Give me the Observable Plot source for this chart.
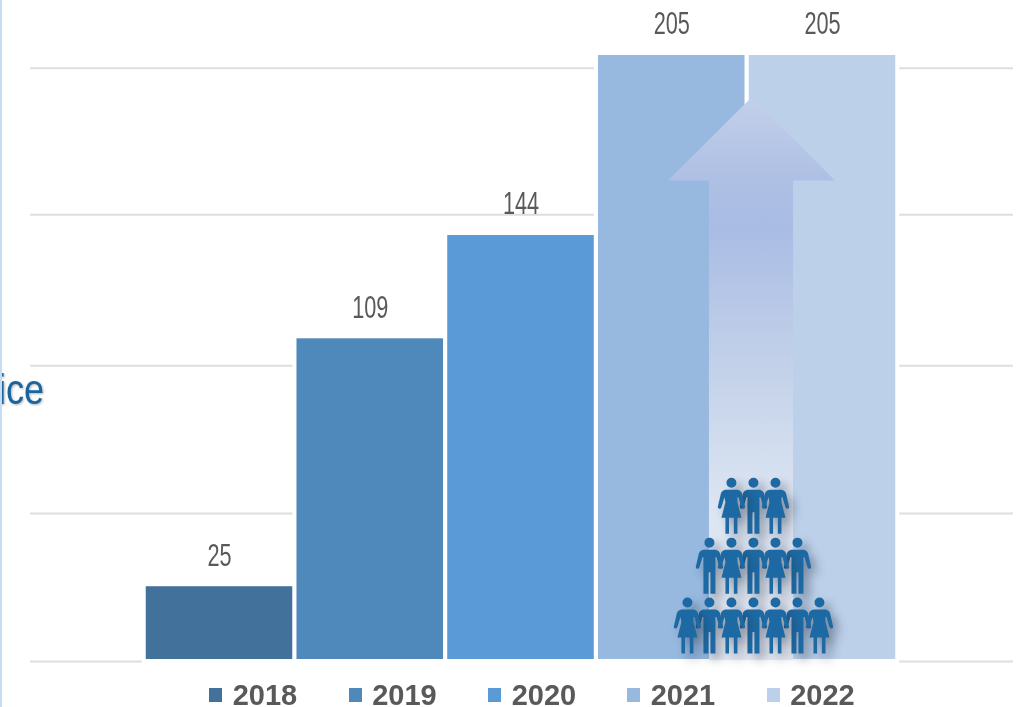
<!DOCTYPE html>
<html>
<head>
<meta charset="utf-8">
<script src="https://cdn.jsdelivr.net/npm/d3@7"></script>
<script src="https://cdn.jsdelivr.net/npm/@observablehq/plot@0.6"></script>
<style>
  html, body { margin: 0; padding: 0; background: #fff; overflow: hidden; }
  #wrap { position: relative; width: 1025px; height: 707px; overflow: hidden; }
  #edge { position: absolute; left: 0; top: 0; width: 2px; height: 707px; background: #c6dcf3; }
  #chart svg { display: block; filter: blur(0.45px); }
  #legend { position: absolute; left: 0; top: 679px; width: 1025px; height: 28px;
    font: bold 29px "Liberation Sans", sans-serif; color: #595959; filter: blur(0.4px); }
  #legend .item { position: absolute; top: 0; height: 28px; line-height: 33px; white-space: nowrap; }
  #legend .sw { position: absolute; left: 0; top: 9px; width: 13px; height: 14px; }
  #legend .lab { position: absolute; left: 23.7px; top: 0; display: inline-block; }
</style>
</head>
<body>
<div id="wrap">
  <div id="chart"></div>
  <div id="edge"></div>
  <div id="legend"></div>
</div>
<script>
const years = [2018, 2019, 2020, 2021, 2022];
const values = [25, 109, 144, 205, 205];
const colors = ["#42719c", "#4f88bb", "#5a9ad7", "#97b8df", "#bcd0ea"];
const gridTicks = [-0.3, 49.8, 99.9, 151, 200.7];

// Arrow outline, in the chart's own units (year, value)
const arrowX  = [2020.978, 2021.25, 2021.25, 2021.532, 2021.808, 2021.808, 2022.086];
const arrowLo = [162.5, 162.5, 0, 0, 0, 162.5, 162.5];
const arrowHi = [162.5, 176.3, 176.3, 190.6, 176.7, 176.7, 162.5];

// People pyramid: position of each figure in chart units
const peopleX = [2021.104, 2021.25, 2021.396, 2021.542, 2021.688, 2021.834, 2021.98];
const rowLevels = [11, 31.3, 51.6];
const rowBottom = ["W", "M", "W", "M", "W", "M", "W"];
const rowMiddle = [null, "M", "W", "M", "W", "M", null];
const rowTop    = [null, null, "W", "M", "W", null, null];

const rows = years.map((year, i) => ({year, value: values[i], color: colors[i]}));
const arrow = arrowX.map((x, i) => ({x, lo: arrowLo[i], hi: arrowHi[i]}));
const people = [rowBottom, rowMiddle, rowTop].flatMap((row, r) =>
  row.map((kind, c) => ({kind, x: peopleX[c], y: rowLevels[r]})).filter(d => d.kind));

const arms = (c, k) => {
  c.quadraticCurveTo(-9.5 * k, -18 * k, -10.5 * k, -15 * k);
  c.lineTo(-13.5 * k, -2 * k);
  c.quadraticCurveTo(-14 * k, 0.5 * k, -12 * k, 0.5 * k);
  c.quadraticCurveTo(-10.5 * k, 0.5 * k, -10 * k, -1 * k);
  c.lineTo(-7 * k, -11 * k);
};
const armsR = (c, k) => {
  c.lineTo(7 * k, -11 * k);
  c.lineTo(10 * k, -1 * k);
  c.quadraticCurveTo(10.5 * k, 0.5 * k, 12 * k, 0.5 * k);
  c.quadraticCurveTo(14 * k, 0.5 * k, 13.5 * k, -2 * k);
  c.lineTo(10.5 * k, -15 * k);
  c.quadraticCurveTo(9.5 * k, -18 * k, 6 * k, -18.5 * k);
};
const head = (c, k) => {
  c.moveTo(5 * k, -25.5 * k);
  c.arc(0, -25.5 * k, 5 * k, 0, 2 * Math.PI);
  c.closePath();
};
const manSymbol = {
  draw(c, size) {
    const k = Math.sqrt(size / Math.PI);
    head(c, k);
    c.moveTo(-6 * k, -18.5 * k);
    arms(c, k);
    c.lineTo(-6 * k, -11 * k);
    c.lineTo(-6 * k, 25.5 * k);
    c.lineTo(-1 * k, 25.5 * k);
    c.lineTo(-1 * k, 4 * k);
    c.lineTo(1 * k, 4 * k);
    c.lineTo(1 * k, 25.5 * k);
    c.lineTo(6 * k, 25.5 * k);
    c.lineTo(6 * k, -11 * k);
    armsR(c, k);
    c.closePath();
  }
};
const womanSymbol = {
  draw(c, size) {
    const k = Math.sqrt(size / Math.PI);
    head(c, k);
    c.moveTo(-6 * k, -18.5 * k);
    arms(c, k);
    c.lineTo(-6 * k, -6 * k);
    c.lineTo(-10 * k, 9.5 * k);
    c.lineTo(-6 * k, 9.5 * k);
    c.lineTo(-6 * k, 25.5 * k);
    c.lineTo(-2.4 * k, 25.5 * k);
    c.lineTo(-2.4 * k, 9.5 * k);
    c.lineTo(2.4 * k, 9.5 * k);
    c.lineTo(2.4 * k, 25.5 * k);
    c.lineTo(6 * k, 25.5 * k);
    c.lineTo(6 * k, 9.5 * k);
    c.lineTo(10 * k, 9.5 * k);
    c.lineTo(6 * k, -6 * k);
    c.lineTo(6 * k, -11 * k);
    armsR(c, k);
    c.closePath();
  }
};

const personFill = "#1d69a3";
const personShadow = "drop-shadow(6px 6px 5px rgba(30,40,60,0.42))";
const halfBar = 0.486;

const plot = Plot.plot({
  width: 1025,
  height: 679,
  marginLeft: 30,
  marginRight: 12,
  marginTop: 0,
  marginBottom: 0,
  x: {type: "linear", domain: [2018, 2022], range: [219, 822], axis: null},
  y: {type: "linear", domain: [0, 205], range: [660, 55], axis: null},
  marks: [
    Plot.ruleY(gridTicks, {y: d => d, stroke: "#dedede", strokeWidth: 2}),
    Plot.rect(rows, {x1: d => d.year - halfBar, x2: d => d.year + halfBar, y1: 0, y2: "value",
      fill: "#fff", insetLeft: -4, insetRight: -4, insetTop: -4, insetBottom: -5}),
    Plot.rect(rows, {x1: d => d.year - halfBar, x2: d => d.year + halfBar, y1: 0, y2: "value",
      fill: "color", insetBottom: 1}),
    Plot.text(rows, {x: "year", y: "value", text: d => String(d.value), dy: -31,
      fontSize: 31, fontFamily: "Liberation Sans", fill: "#595959", lineAnchor: "middle",
      className: "squeeze"}),
    Plot.areaY(arrow, {x: "x", y1: "lo", y2: "hi", fill: "url(#arrowGrad)", curve: "linear"}),
    Plot.dot(people.filter(d => d.kind === "M"), {x: "x", y: "y", r: 1, symbol: manSymbol,
      fill: personFill, stroke: "none", imageFilter: personShadow}),
    Plot.dot(people.filter(d => d.kind === "W"), {x: "x", y: "y", r: 1, symbol: womanSymbol,
      fill: personFill, stroke: "none", imageFilter: personShadow}),
    Plot.text(["ice"], {x: 2016.53, y: 87, text: d => d, textAnchor: "start", lineAnchor: "bottom",
      fontSize: 42, fontFamily: "Liberation Sans", fill: "#1a659f", className: "squeezeTitle",
      imageFilter: "drop-shadow(1px 1px 1px rgba(0,0,0,0.3))"})
  ]
});

plot.insertAdjacentHTML("afterbegin",
  `<defs><linearGradient id="arrowGrad" x1="0" y1="0" x2="0" y2="1">
    <stop offset="0" stop-color="#c3d0ea"/>
    <stop offset="0.14" stop-color="#afc0e4"/>
    <stop offset="0.23" stop-color="#a9bce4"/>
    <stop offset="0.45" stop-color="#c0cfe8"/>
    <stop offset="0.72" stop-color="#dbe4f2"/>
    <stop offset="1" stop-color="#e6ecf6"/>
  </linearGradient></defs>`);
document.getElementById("chart").appendChild(plot);

// The reference's text is horizontally condensed
const squeeze = (sel, f) => plot.querySelectorAll(sel).forEach(t => {
  t.setAttribute("textLength", t.getComputedTextLength() * f);
  t.setAttribute("lengthAdjust", "spacingAndGlyphs");
});
squeeze(".squeeze text", 0.7);
squeeze(".squeezeTitle text", 0.86);

// Legend below the SVG
const legendX = [209, 348.5, 488, 627, 766.5];
const legend = d3.select("#legend");
rows.forEach((d, i) => {
  const item = legend.append("div").attr("class", "item").style("left", legendX[i] + "px");
  item.append("span").attr("class", "sw").style("background", d.color);
  item.append("span").attr("class", "lab").text(d.year);
});
</script>
</body>
</html>
